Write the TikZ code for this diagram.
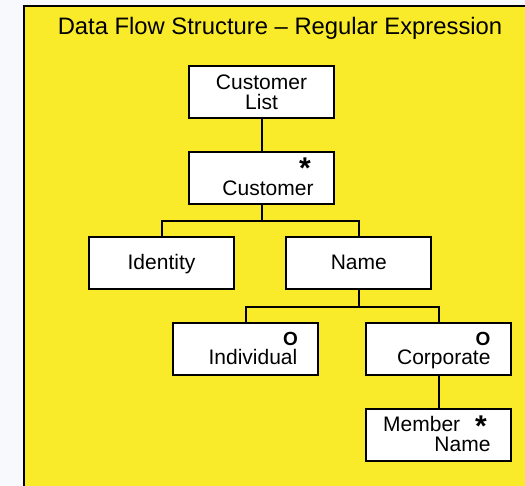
\documentclass[tikz,border=0pt]{standalone}
\usepackage{fontspec}
\setmainfont{Liberation Sans}
\begin{document}
\begin{tikzpicture}[x=1pt,y=-1pt,
  entity/.style={draw=black,line width=2pt,fill=white,minimum width=145pt,minimum height=52pt,inner sep=0pt},
  label/.style={inner sep=0pt,anchor=base,font=\fontsize{21}{21}\selectfont},
  marker/.style={inner sep=0pt,anchor=base,font=\fontsize{19}{19}\selectfont\bfseries},
  starmark/.style={inner sep=0pt,font=\fontsize{30}{30}\selectfont\bfseries},
  link/.style={draw=black,line width=2pt}]
\definecolor{paper}{HTML}{F8F9FC}
\definecolor{panel}{HTML}{F9EA2A}
% tight box around the raised asterisk glyph
\newcommand{\repstar}{\raisebox{-0.40em}[0.34em][0pt]{*}}
% page and panel
\fill[paper] (0,0) rectangle (525,486);
\useasboundingbox (0,0) rectangle (525,486);
\fill[panel] (24,6) rectangle (525,486);
\draw[line width=2pt] (24,486) -- (24,6) -- (525,6);
\node[inner sep=0pt,anchor=base,font=\fontsize{23.8}{24}\selectfont] (title) at (280,34.3) {Data Flow Structure -- Regular Expression};
% boxes
\node[entity] (list) at (261.5,92) {};
\node[label,anchor=center,align=center] (listtxt) at (261.5,92) {Customer\\[-1pt]List};
\node[entity] (cust) at (261.5,178) {};
\node[starmark] (custstar) at (305,161) {\repstar};
\node[label] (custtxt) at (268,196) {Customer};
\node[entity] (ident) at (161.5,263) {};
\node[label] (identtxt) at (161.5,269.3) {Identity};
\node[entity] (name) at (358.5,263.5) {};
\node[label] (nametxt) at (358.8,269.3) {Name};
\node[entity] (indiv) at (245.5,349) {};
\node[marker] (indivo) at (290.5,345.3) {O};
\node[label,anchor=base east] (indivtxt) at (297.5,364.3) {Individual};
\node[entity] (corp) at (438.5,349) {};
\node[marker] (corpo) at (483,345.3) {O};
\node[label,anchor=base east] (corptxt) at (490.7,364.3) {Corporate};
\node[entity] (member) at (438.5,435) {};
\node[label,anchor=base west] (membertxt) at (383,431) {Member};
\node[starmark] (memberstar) at (481,419) {\repstar};
\node[label,anchor=base east] (membername) at (490.7,451.7) {Name};
% connectors
\draw[link] (list.south) -- (cust.north);
\draw[link] (cust.south) -- ++(0,16) -| (ident.north);
\draw[link] (cust.south) -- ++(0,16) -| (name.north);
\draw[link] (name.south) -- ++(0,17) -| (indiv.north);
\draw[link] (name.south) -- ++(0,17) -| (corp.north);
\draw[link] (corp.south) -- (member.north);
\end{tikzpicture}
\end{document}
